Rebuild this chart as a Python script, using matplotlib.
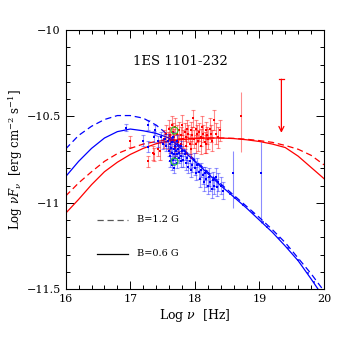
import numpy as np
import matplotlib
matplotlib.use('Agg')
import matplotlib.pyplot as plt
from matplotlib.ticker import MultipleLocator

plt.rcParams['font.family'] = 'DejaVu Serif'
plt.rcParams['mathtext.fontset'] = 'dejavuserif'

# model curves (log nu, log nuFnu)
mod_x = [16.0, 16.2, 16.4, 16.6, 16.8, 17.0, 17.2, 17.4, 17.6, 17.8, 18.0, 18.2,
         18.4, 18.6, 18.8, 19.0, 19.2, 19.4, 19.6, 19.8, 20.0]
blue_06 = [-10.848, -10.76, -10.685, -10.625, -10.588, -10.573, -10.583, -10.598,
           -10.625, -10.69, -10.76, -10.83, -10.90, -10.965, -11.03, -11.10, -11.17,
           -11.25, -11.335, -11.44, -11.55]
blue_12 = [-10.688, -10.61, -10.557, -10.518, -10.495, -10.495, -10.51, -10.55,
           -10.612, -10.682, -10.752, -10.822, -10.89, -10.955, -11.02, -11.085,
           -11.155, -11.23, -11.32, -11.41, -11.51]
red_06 = [-11.06, -10.98, -10.895, -10.82, -10.765, -10.72, -10.685, -10.658, -10.642,
          -10.634, -10.628, -10.625, -10.625, -10.628, -10.635, -10.645, -10.66,
          -10.68, -10.73, -10.795, -10.86]
red_12 = [-10.96, -10.885, -10.82, -10.76, -10.715, -10.685, -10.66, -10.645, -10.635,
          -10.629, -10.626, -10.625, -10.625, -10.627, -10.632, -10.64, -10.65,
          -10.668, -10.69, -10.725, -10.78]

# red data (high state)
red_x = [17.00, 17.27, 17.35, 17.37, 17.43, 17.46, 17.52, 17.55, 17.58, 17.60, 17.62,
         17.64, 17.66, 17.68, 17.70, 17.72, 17.74, 17.76, 17.78, 17.80, 17.82, 17.84,
         17.86, 17.88, 17.90, 17.92, 17.94, 17.96, 17.97, 17.99, 18.01, 18.03, 18.05,
         18.07, 18.09, 18.11, 18.13, 18.15, 18.17, 18.19, 18.21, 18.23, 18.25, 18.27,
         18.30, 18.33, 18.36, 18.39, 17.62, 17.70, 17.78, 17.86, 17.94, 18.02, 18.10,
         18.18]
red_y = [-10.645, -10.76, -10.71, -10.72, -10.69, -10.70, -10.63, -10.60, -10.64, -10.57,
         -10.61, -10.55, -10.59, -10.62, -10.56, -10.60, -10.65, -10.58, -10.61, -10.55,
         -10.63, -10.59, -10.62, -10.57, -10.60, -10.66, -10.58, -10.61, -10.51, -10.63,
         -10.57, -10.60, -10.64, -10.59, -10.62, -10.56, -10.60, -10.65, -10.58, -10.61,
         -10.63, -10.57, -10.60, -10.64, -10.52, -10.60, -10.62, -10.58, -10.66, -10.68,
         -10.66, -10.67, -10.69, -10.66, -10.67, -10.66]
red_e = [0.03, 0.03, 0.04, 0.04, 0.04, 0.05, 0.05, 0.05, 0.05, 0.05, 0.05, 0.05, 0.05,
         0.05, 0.05, 0.05, 0.05, 0.05, 0.05, 0.06, 0.05, 0.05, 0.05, 0.05, 0.05, 0.06,
         0.05, 0.05, 0.05, 0.05, 0.05, 0.05, 0.06, 0.05, 0.05, 0.06, 0.05, 0.06, 0.05,
         0.05, 0.06, 0.06, 0.05, 0.06, 0.06, 0.06, 0.06, 0.06, 0.05, 0.05, 0.05, 0.05,
         0.05, 0.05, 0.05, 0.05]

# blue data (low state)
blue_x = [16.93, 17.20, 17.27, 17.28, 17.36, 17.39, 17.43, 17.47, 17.50, 17.53, 17.56,
          17.58, 17.60, 17.61, 17.62, 17.63, 17.64, 17.65, 17.66, 17.67, 17.68, 17.69,
          17.70, 17.71, 17.72, 17.73, 17.74, 17.75, 17.76, 17.78, 17.79, 17.80, 17.82,
          17.84, 17.86, 17.88, 17.90, 17.92, 17.94, 17.96, 17.98, 18.00, 18.02, 18.04,
          18.06, 18.08, 18.10, 18.12, 18.14, 18.16, 18.18, 18.20, 18.22, 18.24, 18.26,
          18.28, 18.30, 18.32, 18.34, 18.36, 18.40, 18.44, 17.66, 17.72, 17.78, 17.64,
          17.68, 17.62]
blue_y = [-10.565, -10.64, -10.55, -10.675, -10.617, -10.58, -10.645, -10.62, -10.66,
          -10.63, -10.67, -10.64, -10.70, -10.66, -10.73, -10.68, -10.71, -10.65, -10.75,
          -10.69, -10.72, -10.67, -10.74, -10.70, -10.77, -10.72, -10.69, -10.74, -10.71,
          -10.76, -10.73, -10.70, -10.75, -10.72, -10.77, -10.74, -10.79, -10.76, -10.81,
          -10.78, -10.75, -10.80, -10.83, -10.78, -10.82, -10.86, -10.81, -10.84, -10.88,
          -10.83, -10.86, -10.90, -10.85, -10.88, -10.92, -10.87, -10.90, -10.85, -10.91,
          -10.88, -10.90, -10.93, -10.62, -10.64, -10.67, -10.78, -10.80, -10.76]
blue_e = [0.02, 0.03, 0.03, 0.03, 0.03, 0.03, 0.03, 0.03, 0.03, 0.03, 0.03, 0.04, 0.03,
          0.03, 0.03, 0.03, 0.03, 0.03, 0.03, 0.03, 0.03, 0.03, 0.03, 0.03, 0.03, 0.03,
          0.03, 0.03, 0.03, 0.03, 0.03, 0.03, 0.04, 0.03, 0.04, 0.03, 0.04, 0.04, 0.04,
          0.04, 0.04, 0.04, 0.04, 0.04, 0.04, 0.05, 0.04, 0.05, 0.05, 0.04, 0.05, 0.05,
          0.05, 0.05, 0.05, 0.05, 0.05, 0.05, 0.05, 0.05, 0.05, 0.05, 0.03, 0.03, 0.03,
          0.03, 0.03, 0.03]

# hard x-ray points lying on the low state model
hx_x = [18.55, 18.62, 18.75, 18.90, 19.05, 19.12, 19.30, 19.45, 19.60, 19.75, 19.85]
hx_y = [-10.950, -10.972, -11.012, -11.058, -11.112, -11.138, -11.205, -11.262,
        -11.332, -11.408, -11.458]

# isolated points with big asymmetric errors
iso_red = (18.71, -10.50, 0.205, 0.14)
iso_blue_x = [18.59, 19.03]
iso_blue_y = [-10.83, -10.825]
iso_blue_lo = [0.20, 0.29]
iso_blue_hi = [0.13, 0.175]
ul_x, ul_top, ul_tip = 19.34, -10.285, -10.595
green_x = [17.67, 17.67]
green_y = [-10.58, -10.76]

fig = plt.figure(figsize=(3.54, 3.54), dpi=100)
ax = fig.add_axes([0.1856, 0.1828, 0.7297, 0.7325])

ax.plot(mod_x, blue_12, color='blue', lw=0.9, ls=(0, (5, 3)))
ax.plot(mod_x, blue_06, color='blue', lw=0.9)
ax.plot(mod_x, red_12, color='red', lw=0.9, ls=(0, (5, 3)))
ax.plot(mod_x, red_06, color='red', lw=0.9)

ax.errorbar(red_x, red_y, yerr=red_e, fmt='none', ecolor='red', alpha=0.45,
            elinewidth=0.8, capsize=1.5, capthick=0.8)
ax.plot(red_x, red_y, 's', color='red', ms=1.8, mew=0)
ax.errorbar(blue_x, blue_y, yerr=blue_e, fmt='none', ecolor='blue', alpha=0.4,
            elinewidth=0.8, capsize=1.5, capthick=0.8)
ax.plot(blue_x, blue_y, 's', color='blue', ms=1.8, mew=0)
ax.plot(hx_x, hx_y, 's', color='blue', ms=1.6, mew=0, alpha=0.7)

ax.errorbar([iso_red[0]], [iso_red[1]], yerr=[[iso_red[2]], [iso_red[3]]], fmt='s',
            color='red', ecolor=(1, 0, 0, 0.45), ms=1.8, mew=0, elinewidth=0.8,
            capsize=1.5, capthick=0.8)
ax.errorbar(iso_blue_x, iso_blue_y, yerr=[iso_blue_lo, iso_blue_hi], fmt='s',
            color='blue', ecolor=(0, 0, 1, 0.45), ms=1.8, mew=0, elinewidth=0.8,
            capsize=1.5, capthick=0.8)
ax.plot(green_x, green_y, 'o', mfc='none', mec='#22cc22', ms=5, mew=0.8)

# upper limit
ax.plot([ul_x - 0.04, ul_x + 0.04], [ul_top, ul_top], color='red', lw=0.9)
ax.annotate('', xy=(ul_x, ul_tip), xytext=(ul_x, ul_top),
            arrowprops=dict(arrowstyle='->', color='red', lw=0.9,
                            mutation_scale=9, shrinkA=0, shrinkB=0))

# legend drawn by hand
ax.plot([16.49, 16.96], [-11.098, -11.098], color='0.35', lw=0.9, ls=(0, (5, 3)))
ax.text(17.11, -11.098, 'B=1.2 G', fontsize=7, va='center')
ax.plot([16.49, 16.96], [-11.295, -11.295], color='black', lw=0.9)
ax.text(17.11, -11.295, 'B=0.6 G', fontsize=7, va='center')

ax.text(17.77, -10.18, '1ES 1101-232', fontsize=9.5, ha='center', va='center')

ax.set_xlim(16, 20)
ax.set_ylim(-11.5, -10)
ax.xaxis.set_major_locator(MultipleLocator(1))
ax.xaxis.set_minor_locator(MultipleLocator(0.2))
ax.yaxis.set_major_locator(MultipleLocator(0.5))
ax.yaxis.set_minor_locator(MultipleLocator(0.1))
ax.set_yticks([-11.5, -11, -10.5, -10])
ax.set_yticklabels(['\u221211.5', '\u221211', '\u221210.5', '\u221210'])
ax.tick_params(which='both', direction='in', top=True, right=True, labelsize=8,
               width=0.7)
ax.tick_params(which='major', length=6)
ax.tick_params(which='minor', length=3)
for s in ax.spines.values():
    s.set_linewidth(0.8)

ax.set_xlabel(r'Log $\nu$  [Hz]', fontsize=9, labelpad=2)
ax.set_ylabel(r'Log $\nu F_\nu$  [erg cm$^{-2}$ s$^{-1}$]', fontsize=8.5, labelpad=1)

fig.savefig('out.png', dpi=100)
